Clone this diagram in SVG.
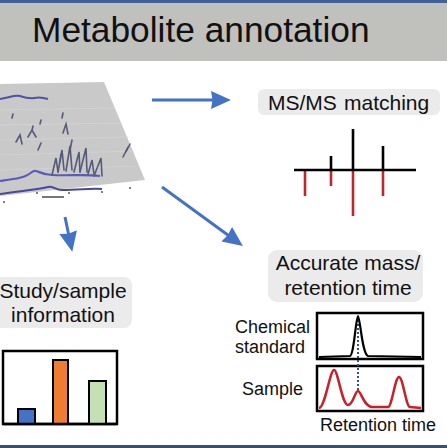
<svg xmlns="http://www.w3.org/2000/svg" width="447" height="448" viewBox="0 0 447 448">
<style>
.t{font-family:"Liberation Sans",Arial,sans-serif;fill:#111}
.lbl{fill:#ebebeb}
.arr{stroke:#4472c4;stroke-width:3;fill:none}
.box{fill:#fff;stroke:#000;stroke-width:2.5}
.spk{stroke:#555a78;stroke-width:1.6;fill:none;stroke-linecap:round}
</style>
<defs>
<marker id="ah" markerUnits="userSpaceOnUse" markerWidth="21" markerHeight="19" refX="9" refY="9" orient="auto" viewBox="0 0 21 19">
<path d="M0,0 L20,9 L0,18 L1.5,9 Z" fill="#4472c4"/>
</marker>
</defs>
<rect width="447" height="448" fill="#fff"/>
<g id="header">
<rect x="0" y="0" width="447" height="61" fill="#c0c0bd"/>
<rect x="0" y="0" width="447" height="3" fill="#41609a"/>
<text class="t" x="32" y="42" font-size="35.3">Metabolite annotation</text>
</g>
<rect x="0" y="445" width="447" height="3" fill="#3b5070"/>

<g id="lcms-plot">
<polygon points="0,84 104,82 145,180 0,196" fill="#c9c9c9"/>
<g stroke="#d6d6d6" stroke-width="0.6">
<line x1="0" y1="110" x2="115" y2="108"/>
<line x1="0" y1="125" x2="122" y2="123"/>
<line x1="0" y1="140" x2="128" y2="137"/>
<line x1="0" y1="155" x2="134" y2="151"/>
<line x1="0" y1="170" x2="140" y2="166"/>
</g>
<path d="M0,99 C8,98 14,95 20,96 C26,98 30,99 34,98 C38,97 42,97 48,99" stroke="#5050a8" stroke-width="2" fill="none"/>
<path d="M0,181 C15,179 25,178 32,172 C36,168 40,175 52,175 C70,176 85,174 100,176" stroke="#5a5ab8" stroke-width="2.2" fill="none"/>
<path d="M0,194 C20,191 35,190 48,187 C52,185 55,190 62,190 C80,190 90,188 102,189" stroke="#4848a0" stroke-width="2" fill="none"/>
<path class="spk" d="M28,137 L32,130 L36,137 M32,130 L33,126"/>
<path class="spk" d="M16,142 L20,135 L22,144"/>
<path class="spk" d="M62,118 L63,113 M63,133 L66,124 L68,134"/>
<path class="spk" d="M38,150 L41,143 M12,118 L13,114 M40,124 L41,120"/>
<path class="spk" d="M52,175 L56,158 L58,172"/>
<path class="spk" d="M58,172 L62,150 L64,170"/>
<path class="spk" d="M66,171 L70,146 L72,170"/>
<path class="spk" d="M74,172 L79,152 L80,172"/>
<path class="spk" d="M80,172 L86,148 L87,172"/>
<path class="spk" d="M88,174 L92,160 L94,174"/>
<path class="spk" d="M94,176 L101,158 L102,176"/>
<path class="spk" d="M70,150 L72,140 M60,162 L61,154"/>
<path class="spk" d="M123,157 L128,147 L126,152 L130,144"/>
<g fill="#555">
<circle cx="4" cy="202" r="1"/>
<circle cx="37" cy="193" r="1"/>
<circle cx="69" cy="193" r="1"/>
<circle cx="102" cy="192" r="1"/>
<circle cx="130" cy="188" r="1"/>
</g>
<rect x="42" y="196" width="22" height="2" fill="#777"/>
</g>

<g id="connectors">
<line class="arr" x1="152" y1="100" x2="220" y2="100" marker-end="url(#ah)"/>
<line class="arr" x1="162" y1="187" x2="234" y2="239.5" marker-end="url(#ah)"/>
<line class="arr" x1="65" y1="217" x2="70" y2="241" marker-end="url(#ah)"/>
</g>

<g id="msms-matching">
<rect class="lbl" x="258" y="89" width="182" height="26" rx="6"/>
<text class="t" x="268" y="110" font-size="21">MS/MS<tspan x="344">matching</tspan></text>
<g stroke-width="2.6">
<line x1="305" y1="170" x2="305" y2="196" stroke="#c0272d"/>
<line x1="331" y1="170" x2="331" y2="186" stroke="#c0272d"/>
<line x1="353" y1="170" x2="353" y2="216" stroke="#c0272d"/>
<line x1="383" y1="170" x2="383" y2="196" stroke="#c0272d"/>
<line x1="331" y1="156" x2="331" y2="170" stroke="#000"/>
<line x1="353" y1="129" x2="353" y2="170" stroke="#000"/>
<line x1="383" y1="146" x2="383" y2="170" stroke="#000"/>
<line x1="294" y1="170" x2="416" y2="170" stroke="#000"/>
</g>
</g>

<g id="study-sample">
<rect class="lbl" x="-8" y="277" width="140" height="51" rx="8"/>
<text class="t" x="63" y="298" font-size="21" text-anchor="middle">Study/sample</text>
<text class="t" x="63" y="322" font-size="21" text-anchor="middle">information</text>
<rect class="box" x="3" y="351" width="114" height="73"/>
<rect x="18" y="409" width="17" height="15" fill="#4472c4" stroke="#000" stroke-width="2"/>
<rect x="53" y="360" width="15" height="64" fill="#ed7d31" stroke="#000" stroke-width="2"/>
<rect x="89" y="381" width="17" height="43" fill="#c5e0b4" stroke="#000" stroke-width="2"/>
<line x1="3" y1="424" x2="117" y2="424" stroke="#000" stroke-width="2.5"/>
</g>

<g id="accurate-mass">
<rect class="lbl" x="268" y="250" width="155" height="52" rx="9"/>
<text class="t" x="348" y="270" font-size="21" text-anchor="middle">Accurate mass/</text>
<text class="t" x="348" y="295" font-size="21" text-anchor="middle">retention time</text>
<text class="t" x="235" y="333" font-size="18">Chemical</text>
<text class="t" x="235" y="353" font-size="18">standard</text>
<text class="t" x="242" y="395" font-size="18">Sample</text>
<rect class="box" x="317" y="313" width="106" height="46"/>
<rect class="box" x="317" y="366" width="106" height="45"/>
<line x1="358" y1="320" x2="358" y2="392" stroke="#3a5080" stroke-width="2" stroke-dasharray="2,2"/>
<path d="M319,357 L350,356 C354,355 356,316 358,316 C360,316 362,354 368,356 L421,357" stroke="#000" stroke-width="2.2" fill="none"/>
<path d="M319,408 C325,408 330,370 334,370 C338,370 342,405 348,405 C353,405 355,391 358,391 C361,391 364,407 372,407 L388,407 C392,407 395,377 399,377 C403,377 406,407 410,407 L421,408" stroke="#c8202a" stroke-width="2.5" fill="none"/>
<text class="t" x="320" y="431" font-size="18">Retention time</text>
</g>
</svg>
